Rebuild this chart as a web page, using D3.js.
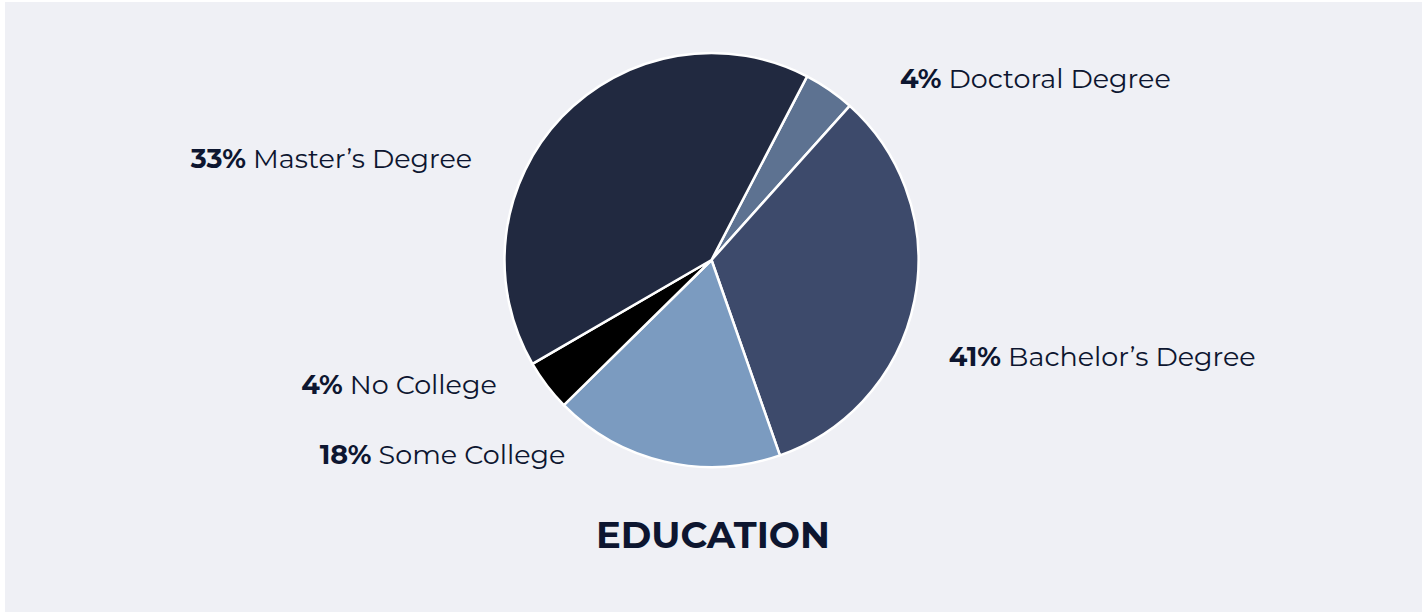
<!DOCTYPE html>
<html lang="en">
<head>
<meta charset="utf-8">
<title>Education</title>
<style>
  html, body { margin: 0; padding: 0; background: #ffffff; }
  svg { display: block; }
  .label { font-family: Montserrat, "DejaVu Sans", sans-serif; font-size: 27px; fill: #0d1630; }
  .label .pct { font-weight: 700; }
  .title { font-family: Montserrat, "DejaVu Sans", sans-serif; font-size: 37px; font-weight: 700; fill: #0d1630; }
</style>
</head>
<body>
<div id="chart"></div>
<script src="https://cdn.jsdelivr.net/npm/d3@7"></script>
<script>
// slice order, clockwise from the top-right
const categories = ["Doctoral Degree", "Bachelor’s Degree", "Some College", "No College", "Master’s Degree"];
const values = [4, 33, 18, 4, 41];           // slice sizes as drawn
const percentLabels = ["4%", "41%", "18%", "4%", "33%"]; // text as printed
const colors = ["#5d7291", "#3d4a6b", "#7b9bc0", "#000000", "#212940"];

// label placement (polar, around the pie centre)
const labelAngles = [46, 112, 217, 240, 293];
const labelRadii = [262, 256, 243, 248, 260];

const width = 1428, height = 613;
const cx = 711.5, cy = 260, radius = 207;
const startDeg = 27.5;

const svg = d3.select("#chart").append("svg")
    .attr("width", width)
    .attr("height", height);

svg.append("rect")
    .attr("x", 5).attr("y", 2)
    .attr("width", 1417).attr("height", 610)
    .attr("fill", "#eff0f5");

const data = categories.map((c, i) => ({ name: c, value: values[i], pct: percentLabels[i], color: colors[i] }));

const pie = d3.pie()
    .sort(null)
    .value(d => d.value)
    .startAngle(startDeg * Math.PI / 180)
    .endAngle(startDeg * Math.PI / 180 + 2 * Math.PI);

const arc = d3.arc().innerRadius(0).outerRadius(radius);

const g = svg.append("g").attr("transform", `translate(${cx},${cy})`);

g.selectAll("path")
    .data(pie(data))
    .join("path")
    .attr("d", arc)
    .attr("fill", d => d.data.color)
    .attr("stroke", "#ffffff")
    .attr("stroke-width", 2.5)
    .attr("stroke-linejoin", "round");

// labels
const labels = g.selectAll("text.label")
    .data(data)
    .join("text")
    .attr("class", "label")
    .each(function (d, i) {
        const p = d3.pointRadial(labelAngles[i] * Math.PI / 180, labelRadii[i]);
        d3.select(this)
            .attr("x", p[0])
            .attr("y", p[1])
            .attr("dy", "0.36em")
            .attr("text-anchor", p[0] >= 0 ? "start" : "end");
    });

labels.append("tspan").attr("class", "pct").text(d => d.pct);
labels.append("tspan").text(d => " " + d.name);

svg.append("text")
    .attr("class", "title")
    .attr("x", 713)
    .attr("y", 548)
    .attr("text-anchor", "middle")
    .text("EDUCATION");
</script>
</body>
</html>
